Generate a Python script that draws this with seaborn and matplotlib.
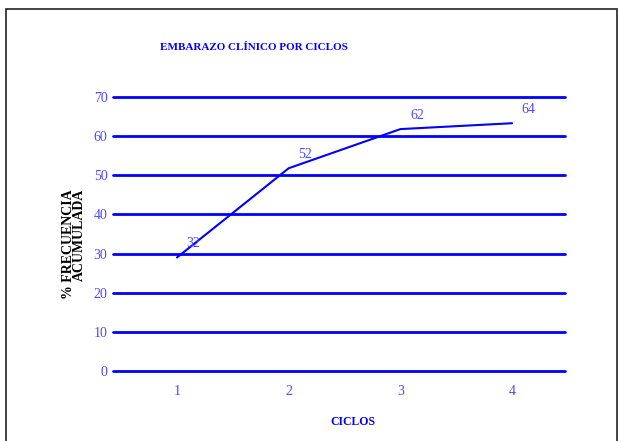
"""embarazo clinico por ciclos - frecuencia acumulada"""

import pandas as pd
import matplotlib.pyplot as plt
import seaborn as sns
from matplotlib.patches import Rectangle

ciclos = [1, 2, 3, 4]
frecuencia = [29, 51.8, 61.8, 63.3]
etiquetas = ["32", "52", "62", "64"]
y_ticks = [0, 10, 20, 30, 40, 50, 60, 70]

BLUE = "#0000ff"
LIGHT_BLUE = "#4a4aff"

df = pd.DataFrame({"Ciclo": ciclos, "Frecuencia": frecuencia})

sns.set_style("white")
plt.rcParams["font.family"] = ["Liberation Serif", "DejaVu Serif"]

fig = plt.figure(figsize=(6.19, 4.41), dpi=100)
ax = fig.add_axes([113 / 619, 70 / 441, 452 / 619, 274 / 441])

for y in y_ticks:
    ax.axhline(y, color=BLUE, lw=2, zorder=1, clip_on=False)

sns.lineplot(data=df, x="Ciclo", y="Frecuencia", ax=ax, color=BLUE, lw=1.5, zorder=3)

for x, y, lab in zip(ciclos, frecuencia, etiquetas):
    ax.annotate(lab, (x, y), xytext=(12, 10), textcoords="offset points",
                color=LIGHT_BLUE, fontsize=10, ha="center", va="center")

ax.set_xlim(0.427, 4.474)
ax.set_ylim(0, 70)
ax.set_xticks(ciclos)
ax.set_yticks(y_ticks)
ax.tick_params(axis="both", length=0, colors=LIGHT_BLUE, labelsize=10)
ax.tick_params(axis="x", pad=10)
ax.tick_params(axis="y", pad=4)
ax.set_xlabel("")
ax.set_ylabel("")
for s in ax.spines.values():
    s.set_visible(False)

fig.text(254 / 619, 1 - 47 / 441, "EMBARAZO CLÍNICO POR CICLOS", color=BLUE,
         fontsize=8, fontweight="bold", ha="center", va="center")
fig.text(353 / 619, 1 - 422 / 441, "CICLOS", color=BLUE,
         fontsize=8.5, fontweight="bold", ha="center", va="center")
fig.text(74 / 619, 1 - 244 / 441, "% FRECUENCIA\nACUMULADA", color="black",
         fontsize=10, fontweight="bold", rotation=90, ha="center", va="center",
         multialignment="right", linespacing=0.8)

fig.patches.append(Rectangle((6 / 619, -0.05), 611 / 619, 1.05 - 9 / 441,
                             transform=fig.transFigure, fill=False,
                             edgecolor="#222222", lw=1.2))

plt.savefig("out.png", dpi=100)
plt.close()
